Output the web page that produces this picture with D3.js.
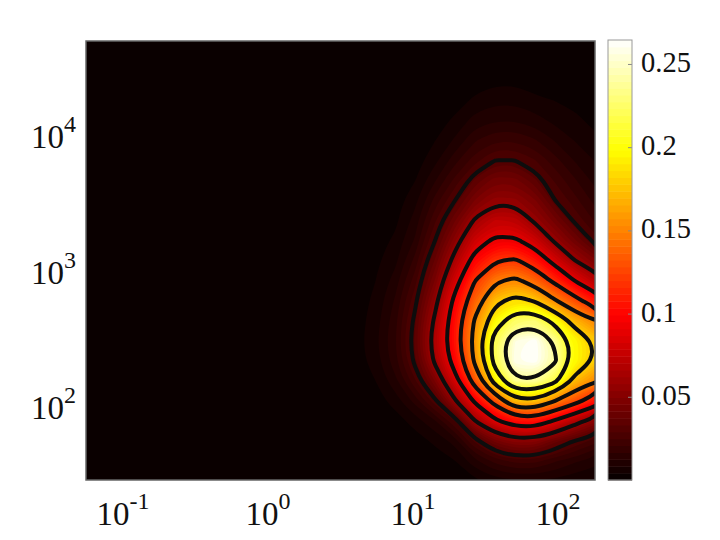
<!DOCTYPE html>
<html>
<head>
<meta charset="utf-8">
<title>Density contours</title>
<script src="https://d3js.org/d3.v7.min.js"></script>
<style>
  body { margin: 0; background: #fff; }
  text { font-family: "Liberation Serif", serif; fill: #111; }
</style>
</head>
<body>
<script>
// grid positions, log10 of x and y
var logX = [0.462, 0.6, 0.738, 0.876, 1.014, 1.152, 1.29, 1.428, 1.566, 1.703, 1.841, 1.979, 2.117, 2.255];
var logY = [4.716, 4.568, 4.421, 4.273, 4.125, 3.978, 3.83, 3.683, 3.535, 3.387, 3.24, 3.092, 2.945, 2.797, 2.649, 2.502, 2.354, 2.207, 2.059, 1.911, 1.764, 1.616, 1.469];

// density, one list per x position, top to bottom
var col00 = [0,0,0,0,0,0,0,0,0,0,0,0,0,0,0,0,0,0,0,0,0,0,0];
var col01 = [0,0,0,0,0,0,0,0,0,0,0,0,.001,.002,.002,.002,.002,.001,0,0,0,0,0];
var col02 = [0,0,0,0,0,0,0,0,.001,.001,.002,.003,.004,.005,.006,.007,.006,.004,.002,.001,0,0,0];
var col03 = [0,0,0,0,0,0,.001,.001,.002,.003,.005,.007,.01,.013,.015,.016,.015,.011,.006,.002,.001,0,0];
var col04 = [0,0,0,0,.001,.001,.002,.004,.007,.01,.013,.018,.023,.028,.032,.034,.032,.024,.014,.006,.002,.001,0];
var col05 = [0,0,0,.001,.002,.004,.007,.012,.018,.024,.03,.038,.046,.055,.063,.068,.063,.046,.028,.012,.005,.002,0];
var col06 = [0,0,.001,.002,.005,.009,.015,.022,.03,.041,.053,.066,.081,.096,.104,.107,.1,.082,.058,.025,.01,.004,.001];
var col07 = [0,0,.002,.005,.01,.016,.023,.034,.046,.062,.079,.099,.12,.137,.153,.16,.155,.131,.094,.06,.026,.011,.003];
var col08 = [0,.001,.003,.007,.012,.02,.03,.044,.056,.075,.094,.118,.146,.173,.197,.222,.22,.192,.13,.086,.043,.018,.006];
var col09 = [0,.001,.003,.007,.012,.02,.03,.043,.055,.073,.093,.123,.155,.188,.225,.256,.26,.236,.173,.103,.052,.022,.007];
var col10 = [0,.001,.002,.005,.01,.017,.025,.034,.046,.057,.079,.106,.138,.178,.228,.264,.264,.238,.174,.105,.051,.022,.007];
var col11 = [0,.001,.002,.004,.007,.012,.018,.024,.03,.043,.057,.082,.114,.152,.202,.236,.243,.216,.15,.087,.039,.017,.007];
var col12 = [0,.001,.001,.003,.005,.008,.012,.017,.022,.028,.042,.06,.089,.128,.169,.197,.198,.171,.128,.067,.029,.013,.005];
var col13 = [0,0,.001,.002,.003,.005,.008,.011,.015,.02,.027,.046,.07,.105,.15,.177,.178,.152,.104,.051,.022,.01,.004];
var densityColumns = [col00, col01, col02, col03, col04, col05, col06, col07, col08, col09, col10, col11, col12, col13];

var lineLevels = [0.03, 0.06, 0.09, 0.12, 0.15, 0.18, 0.21, 0.24];
var xTickExp = [-1, 0, 1, 2];
var yTickExp = [2, 3, 4];
var barTicks = [0.05, 0.1, 0.15, 0.2, 0.25];
var barTickLabels = ["0.05", "0.1", "0.15", "0.2", "0.25"];
var hotStops = ["#050000", "#ff0000", "#ffff00", "#ffffff"];
var hotPositions = [0, 0.375, 0.75, 1];

var zMax = 0.2644, bands = 64;
var plot = { left: 86, right: 595, top: 41, bottom: 480 };
var bar = { left: 608, right: 632, top: 40, bottom: 480 };

var svg = d3.select("body").append("svg").attr("width", 720).attr("height", 540);

var xScale = d3.scaleLog().domain([Math.pow(10, -1.255), Math.pow(10, 2.255)]).range([plot.left, plot.right]);
var yScale = d3.scaleLog().domain([Math.pow(10, 1.469), Math.pow(10, 4.716)]).range([480, 40]);
var zScale = d3.scaleLinear().domain([0, zMax]).range([bar.bottom, bar.top]);

var hot = d3.scaleLinear().domain(hotPositions.map(function (p) { return p * zMax; })).range(hotStops);
function bandColor(i) { return hot((i + 0.5) * zMax / bands); }

svg.append("clipPath").attr("id", "plotClip").append("rect")
  .attr("x", plot.left).attr("y", plot.top)
  .attr("width", plot.right - plot.left).attr("height", plot.bottom - plot.top);

var g = svg.append("g").attr("clip-path", "url(#plotClip)");
g.append("rect")
  .attr("x", plot.left).attr("y", plot.top)
  .attr("width", plot.right - plot.left).attr("height", plot.bottom - plot.top)
  .attr("fill", bandColor(0));

// flat grid for d3.contours
var nx = logX.length, ny = logY.length, values = [];
logY.forEach(function (_, j) {
  densityColumns.forEach(function (col) { values.push(col[j]); });
});

// d3.contours puts sample i at i + 0.5
var stepX = logX[1] - logX[0], stepY = logY[1] - logY[0];
var line = d3.line()
  .x(function (p) { return xScale(Math.pow(10, logX[0] + (p[0] - 0.5) * stepX)); })
  .y(function (p) { return yScale(Math.pow(10, logY[0] + (p[1] - 0.5) * stepY)); })
  .curve(d3.curveBasisClosed);

function ringPath(geom) {
  var d = "";
  geom.coordinates.forEach(function (poly) {
    poly.forEach(function (ring) { d += line(ring.slice(0, -1)); });
  });
  return d;
}

var contours = d3.contours().size([nx, ny]);

var fillLevels = d3.range(1, bands).map(function (i) { return i * zMax / bands; });
g.selectAll("path.band")
  .data(fillLevels.map(function (t) { return contours.contour(values, t); }))
  .enter().append("path")
  .attr("class", "band")
  .attr("d", ringPath)
  .attr("fill-rule", "evenodd")
  .attr("fill", function (d, i) { return bandColor(i + 1); });

g.selectAll("path.level")
  .data(lineLevels.map(function (t) { return contours.contour(values, t); }))
  .enter().append("path")
  .attr("class", "level")
  .attr("d", ringPath)
  .attr("fill", "none")
  .attr("stroke", "#0d0d0d")
  .attr("stroke-width", 4);

// plot frame
svg.append("rect")
  .attr("x", plot.left).attr("y", plot.top)
  .attr("width", plot.right - plot.left).attr("height", plot.bottom - plot.top)
  .attr("fill", "none").attr("stroke", "#666").attr("stroke-width", 1.5);

// axis labels, 10 with a raised exponent
function powerLabel(sel, anchor) {
  sel.append("tspan").attr("font-size", 33).text("10");
  sel.append("tspan").attr("font-size", 24).attr("dy", -16)
    .text(function (d) { return d; });
  sel.attr("text-anchor", anchor);
}

svg.selectAll("text.xlab").data(xTickExp).enter().append("text")
  .attr("class", "xlab")
  .attr("x", function (d) { return xScale(Math.pow(10, d)); })
  .attr("y", 525)
  .call(powerLabel, "middle");

svg.selectAll("text.ylab").data(yTickExp).enter().append("text")
  .attr("class", "ylab")
  .attr("x", 76)
  .attr("y", function (d) { return yScale(Math.pow(10, d)) + 11; })
  .call(powerLabel, "end");

// colorbar
var barG = svg.append("g");
barG.selectAll("rect").data(d3.range(bands)).enter().append("rect")
  .attr("x", bar.left)
  .attr("width", bar.right - bar.left)
  .attr("y", function (i) { return zScale((i + 1) * zMax / bands); })
  .attr("height", function (i) { return zScale(i * zMax / bands) - zScale((i + 1) * zMax / bands) + 0.5; })
  .attr("fill", bandColor);

var barAxis = d3.axisRight(zScale).tickValues(barTicks).tickSize(-4).tickFormat("");
var barAxisG = svg.append("g").attr("transform", "translate(" + bar.right + ",0)").call(barAxis);
barAxisG.select(".domain").remove();
barAxisG.selectAll("line").attr("stroke", "#888");

svg.append("rect")
  .attr("x", bar.left).attr("y", bar.top)
  .attr("width", bar.right - bar.left).attr("height", bar.bottom - bar.top)
  .attr("fill", "none").attr("stroke", "#999").attr("stroke-width", 1);

svg.selectAll("text.barlab").data(barTicks).enter().append("text")
  .attr("class", "barlab")
  .attr("x", 641)
  .attr("y", function (d) { return zScale(d) + 8; })
  .attr("font-size", 28.5)
  .text(function (d, i) { return barTickLabels[i]; });
</script>
</body>
</html>
